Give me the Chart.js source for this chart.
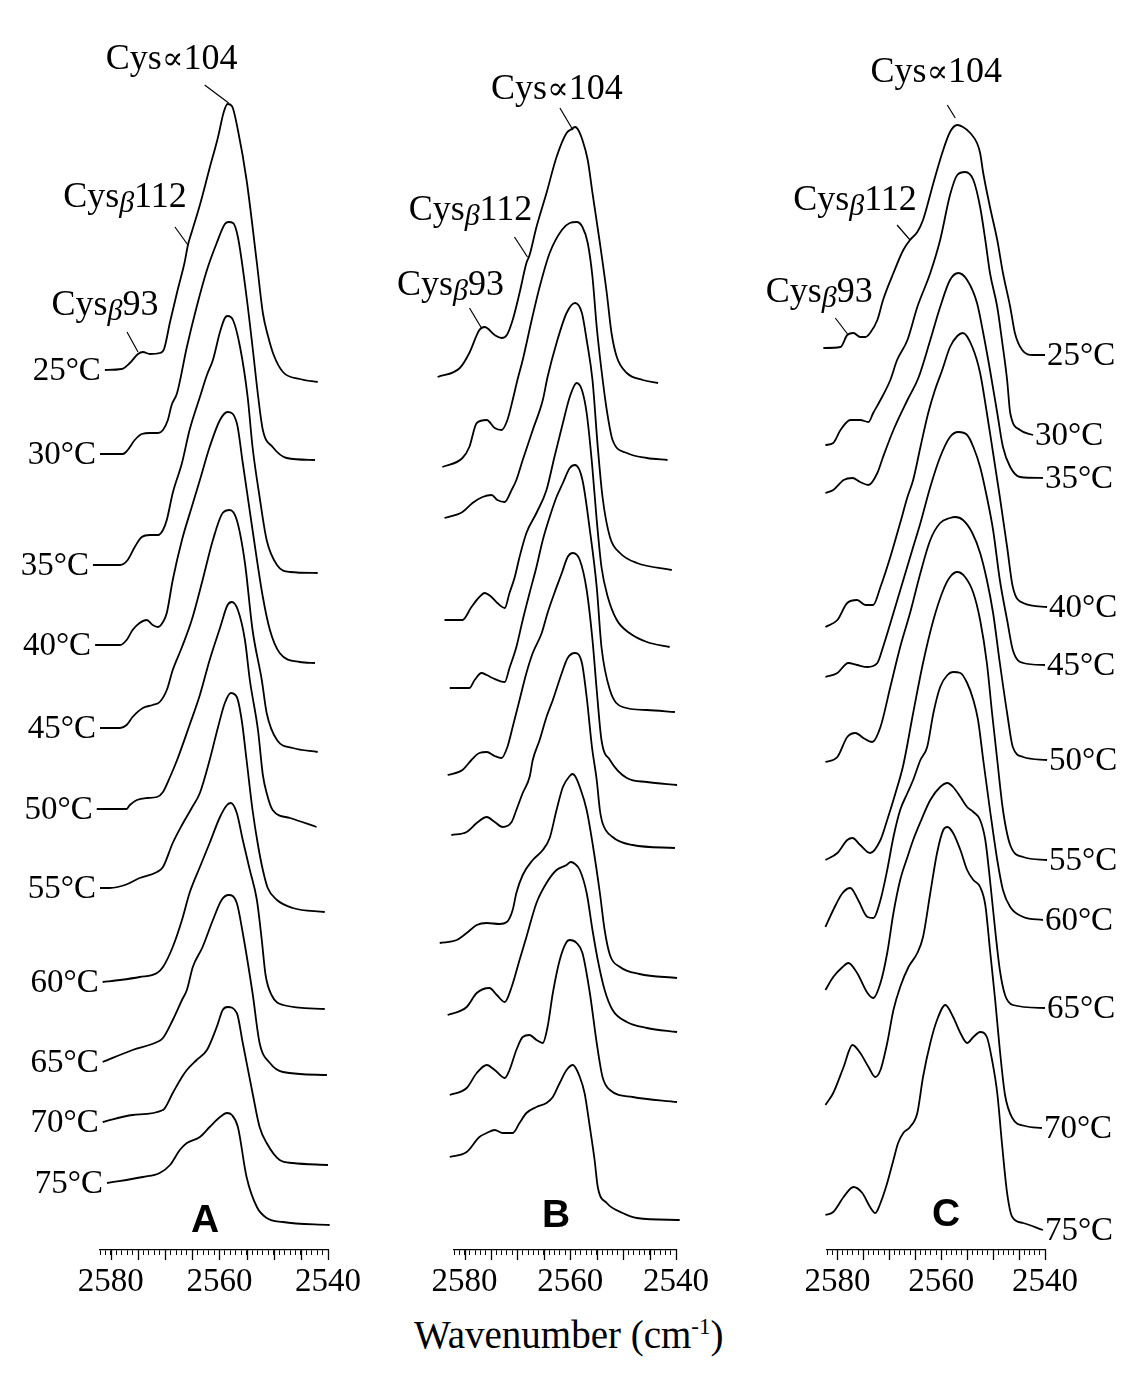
<!DOCTYPE html>
<html lang="en">
<head>
<meta charset="UTF-8">
<title>S-H stretching bands, 25-75 °C</title>
<script src="https://cdn.jsdelivr.net/npm/chart.js"></script>
<style>
    body { margin: 0; background: #fff; }
    #wrap { position: relative; width: 1123px; height: 1382px; }
    canvas { position: absolute; top: 0; }
    #xtitle {
        position: absolute; left: 414px; top: 1312px; white-space: nowrap;
        font-family: "Liberation Serif", serif; font-size: 39px; color: #000;
    }
    #xtitle sup { font-size: 23px; }
</style>
</head>
<body>
<div id="wrap">
    <canvas id="chartA" width="375" height="1300" style="left:0"></canvas>
    <canvas id="chartB" width="375" height="1300" style="left:375px"></canvas>
    <canvas id="chartC" width="373" height="1300" style="left:750px"></canvas>
    <div id="xtitle">Wavenumber (cm<sup>-1</sup>)</div>
</div>
<script>
const tickLabels = [2580, 2560, 2540];
const temps = ['25', '30', '35', '40', '45', '50', '55', '60', '65', '70', '75'];
const cysNames = ['Cys∝104', 'Cysβ112', 'Cysβ93'];

// baseline of each stacked spectrum (a.u.), 25 -> 75 °C
const offA = [880, 796, 685, 605, 522, 441, 362, 268, 188, 128, 67];
const offB = [873, 783, 732, 630, 562, 475, 415, 307, 235, 155, 93];
const offC = [902, 805, 757, 623, 573, 488, 390, 323, 260, 145, 35];

// spectra: [wavenumber, intensity above own baseline]
const a25 = [[2581.1,0],[2578.0,1],[2576.5,7],[2575.0,16],[2574.1,18],[2572.8,16],[2571.0,17],[2570.2,21],[2569.1,48],[2567.7,80],[2566.4,108],[2565.8,125],[2565.1,138],[2563.6,165],[2561.8,202],[2560.3,232],[2559.2,258],[2558.5,266],[2557.7,264],[2556.6,240],[2555.0,190],[2553.1,107],[2552.0,57],[2551.1,35],[2550.0,15],[2548.3,-2],[2545.2,-9],[2541.9,-12]];
const a30 = [[2582.0,0],[2577.8,0],[2576.9,4],[2575.6,14],[2574.3,20],[2572.8,21],[2571.3,21],[2570.4,24],[2569.5,34],[2568.8,49],[2567.8,61],[2566.0,107],[2564.2,147],[2562.3,184],[2560.5,211],[2559.0,230],[2558.3,232],[2557.5,231],[2556.6,217],[2555.0,157],[2553.9,107],[2552.9,59],[2552.0,24],[2550.2,7],[2547.6,-4],[2542.4,-6]];
const a35 = [[2583.3,0],[2578.3,0],[2576.9,5],[2575.6,18],[2574.3,28],[2572.8,30],[2571.3,30],[2570.4,35],[2569.7,45],[2568.6,72],[2566.9,102],[2565.5,135],[2563.6,168],[2562.3,190],[2561.2,205],[2559.9,233],[2559.0,247],[2558.5,249],[2557.5,245],[2556.2,218],[2554.8,168],[2553.9,118],[2552.6,68],[2551.3,25],[2549.4,0],[2547.0,-7],[2541.9,-8]];
const a40 = [[2582.9,0],[2578.3,0],[2577.1,5],[2576.0,15],[2574.7,22],[2573.4,25],[2572.3,20],[2571.3,18],[2570.4,23],[2569.7,32],[2568.6,65],[2566.9,105],[2565.1,138],[2563.6,165],[2561.8,198],[2559.9,225],[2558.5,233],[2556.8,222],[2555.7,182],[2553.9,115],[2552.0,48],[2550.7,15],[2548.9,-8],[2545.2,-17],[2542.4,-18]];
const a45 = [[2582.0,0],[2578.3,0],[2577.1,3],[2576.0,11],[2574.1,20],[2572.3,23],[2571.0,26],[2569.7,38],[2568.6,58],[2566.9,81],[2565.1,108],[2563.1,148],[2561.2,188],[2559.4,215],[2558.1,218],[2556.8,208],[2555.3,165],[2553.9,98],[2552.2,48],[2551.3,15],[2549.4,-12],[2546.5,-20],[2541.9,-24]];
const a50 = [[2582.6,0],[2577.1,0],[2576.5,4],[2575.2,9],[2573.4,11],[2571.5,12],[2570.4,17],[2569.1,32],[2567.8,49],[2565.5,84],[2563.6,114],[2561.8,149],[2559.9,181],[2558.5,204],[2557.7,207],[2556.6,199],[2555.3,169],[2554.4,129],[2552.9,79],[2552.0,34],[2551.3,16],[2550.2,-1],[2547.0,-9],[2542.1,-18]];
const a55 = [[2582.0,0],[2580.2,0],[2577.4,3],[2574.7,10],[2571.5,16],[2570.4,21],[2568.6,45],[2566.9,63],[2565.1,80],[2563.6,95],[2561.8,128],[2560.3,160],[2559.0,185],[2557.9,195],[2556.8,191],[2555.9,168],[2555.0,128],[2553.9,78],[2552.9,43],[2552.0,18],[2551.1,0],[2549.4,-12],[2546.5,-20],[2540.6,-24]];
const a60 = [[2581.5,0],[2578.3,2],[2574.7,5],[2571.5,9],[2570.4,15],[2568.6,35],[2566.9,62],[2565.5,89],[2563.6,115],[2561.8,139],[2559.9,165],[2558.6,177],[2557.9,179],[2556.8,169],[2555.7,142],[2554.4,112],[2553.1,82],[2552.2,42],[2551.5,7],[2550.4,-13],[2548.3,-23],[2540.6,-27]];
const a65 = [[2581.5,0],[2576.0,12],[2571.5,20],[2570.4,24],[2568.6,42],[2566.9,62],[2566.0,72],[2564.9,95],[2563.1,115],[2561.2,142],[2559.6,162],[2558.3,167],[2556.8,159],[2555.7,129],[2553.9,69],[2552.6,19],[2550.7,-1],[2548.3,-10],[2540.2,-13]];
const a70 = [[2581.5,0],[2576.0,7],[2570.4,12],[2568.6,29],[2566.9,45],[2566.0,52],[2564.2,62],[2562.3,72],[2560.5,95],[2559.4,112],[2558.5,115],[2556.8,109],[2555.7,79],[2553.9,29],[2552.6,-5],[2551.3,-21],[2548.9,-38],[2546.5,-41],[2540.0,-43]];
const a75 = [[2580.7,0],[2574.1,6],[2571.0,10],[2569.1,18],[2567.3,33],[2566.0,40],[2563.6,46],[2561.8,56],[2559.9,66],[2558.6,70],[2557.7,68],[2556.6,56],[2555.0,6],[2553.1,-24],[2551.3,-35],[2548.3,-39],[2539.7,-42]];

const b25 = [[2585.1,0],[2580.9,9],[2579.1,24],[2577.2,47],[2576.2,50],[2574.3,42],[2573.0,39],[2572.0,42],[2570.9,57],[2569.6,84],[2568.3,114],[2567.7,122],[2566.4,150],[2564.5,184],[2562.6,220],[2560.7,244],[2559.7,248],[2559.1,250],[2558.6,248],[2557.7,237],[2556.7,217],[2555.8,184],[2554.4,134],[2553.1,84],[2552.2,44],[2551.2,20],[2549.3,4],[2546.3,-3],[2543.4,-6]];
const b30 = [[2584.2,0],[2580.4,9],[2579.1,20],[2577.7,44],[2575.8,47],[2574.3,39],[2573.0,37],[2571.9,47],[2570.9,67],[2570.0,87],[2569.0,107],[2567.3,147],[2565.8,180],[2563.9,214],[2561.6,237],[2560.1,244],[2558.8,245],[2557.7,240],[2556.7,224],[2555.8,190],[2555.0,140],[2554.1,97],[2553.1,57],[2552.0,27],[2549.3,14],[2545.5,9],[2541.6,7]];
const b35 = [[2583.8,0],[2580.4,6],[2578.5,15],[2576.6,21],[2574.9,23],[2573.8,18],[2572.4,16],[2571.1,28],[2570.2,38],[2569.0,58],[2567.1,88],[2565.2,118],[2564.3,141],[2562.6,175],[2560.7,205],[2559.1,215],[2557.8,205],[2556.9,178],[2555.8,138],[2554.8,71],[2553.9,21],[2552.5,-19],[2550.6,-35],[2547.4,-45],[2540.8,-52]];
const b40 = [[2583.8,0],[2580.4,0],[2578.7,13],[2577.2,23],[2576.2,27],[2574.9,23],[2573.8,17],[2572.4,12],[2571.5,27],[2570.5,43],[2569.6,63],[2568.3,87],[2566.4,107],[2564.5,130],[2563.0,163],[2561.4,197],[2560.1,223],[2558.8,237],[2557.8,230],[2556.9,207],[2555.9,157],[2555.0,100],[2554.1,53],[2552.9,23],[2551.2,0],[2548.8,-13],[2545.5,-22],[2541.2,-27]];
const b45 = [[2582.8,0],[2579.1,0],[2578.1,8],[2576.8,15],[2575.8,13],[2574.7,10],[2572.4,6],[2571.5,20],[2570.2,41],[2569.0,68],[2567.7,95],[2566.4,121],[2565.2,148],[2563.9,171],[2562.6,191],[2561.4,205],[2560.1,220],[2559.1,223],[2557.7,208],[2556.3,158],[2555.0,101],[2554.1,41],[2552.5,-2],[2550.1,-19],[2545.5,-22],[2540.2,-24]];
const b50 = [[2583.2,0],[2580.4,5],[2578.7,15],[2577.2,22],[2575.8,23],[2574.3,19],[2573.0,17],[2571.9,28],[2570.9,48],[2569.6,75],[2568.3,102],[2567.1,122],[2565.4,142],[2564.3,162],[2563.0,182],[2561.6,202],[2560.5,218],[2559.5,222],[2558.2,215],[2556.9,185],[2555.8,135],[2555.0,85],[2554.1,35],[2552.5,15],[2549.3,-3],[2545.5,-7],[2539.8,-10]];
const b55 = [[2582.5,0],[2579.6,3],[2577.7,12],[2575.8,18],[2574.3,13],[2572.8,8],[2571.1,13],[2570.2,25],[2569.0,42],[2567.7,58],[2567.1,75],[2565.8,95],[2564.5,118],[2563.3,135],[2561.6,162],[2560.5,177],[2559.1,182],[2557.8,172],[2556.9,138],[2555.9,88],[2555.0,55],[2554.4,25],[2553.9,12],[2552.0,-2],[2548.2,-10],[2540.2,-13]];
const b60 = [[2584.7,0],[2581.5,3],[2579.6,10],[2577.7,18],[2575.8,20],[2573.4,19],[2572.0,21],[2570.9,33],[2570.2,50],[2569.0,68],[2567.1,83],[2565.2,93],[2563.9,105],[2562.6,133],[2561.4,156],[2560.1,167],[2559.6,169],[2559.1,167],[2558.2,156],[2556.9,133],[2555.8,100],[2554.4,50],[2553.5,13],[2552.5,-12],[2550.6,-24],[2546.9,-31],[2539.8,-35]];
const b65 = [[2583.2,0],[2579.6,8],[2577.7,22],[2575.3,27],[2573.9,20],[2572.4,13],[2571.1,28],[2569.6,55],[2568.3,78],[2566.4,112],[2564.5,132],[2562.6,145],[2560.7,150],[2559.9,153],[2559.1,151],[2558.2,145],[2556.9,122],[2555.8,85],[2554.8,55],[2553.5,25],[2552.0,5],[2549.3,-7],[2545.5,-13],[2539.8,-17]];
const b70 = [[2582.8,0],[2579.6,7],[2577.7,22],[2575.8,30],[2574.3,25],[2572.4,17],[2571.5,25],[2570.2,45],[2569.0,58],[2567.7,60],[2566.4,55],[2565.2,52],[2564.3,68],[2563.3,102],[2562.0,135],[2560.7,153],[2560.1,155],[2558.8,152],[2557.7,142],[2556.3,102],[2555.0,52],[2553.9,18],[2552.5,5],[2548.2,-2],[2539.8,-7]];
const b75 = [[2582.8,0],[2579.6,5],[2577.2,20],[2575.8,24],[2574.3,27],[2572.8,24],[2570.9,24],[2569.6,34],[2568.3,44],[2566.4,50],[2564.5,54],[2563.3,60],[2562.0,74],[2560.7,87],[2559.5,92],[2558.2,80],[2557.3,64],[2556.3,30],[2555.4,-3],[2554.8,-30],[2553.1,-46],[2550.1,-56],[2547.4,-61],[2539.3,-63]];

const c25 = [[2582.7,0],[2579.4,1],[2578.1,13],[2576.9,15],[2575.6,11],[2574.6,11],[2573.7,15],[2572.3,28],[2571.2,48],[2569.2,75],[2567.3,98],[2566.0,108],[2564.6,116],[2563.5,128],[2561.5,165],[2559.8,195],[2558.3,216],[2556.9,223],[2555.8,221],[2554.4,215],[2553.1,205],[2552.5,195],[2551.9,175],[2550.6,141],[2549.2,108],[2548.1,75],[2546.7,41],[2545.8,15],[2544.4,-2],[2542.3,-7],[2540.0,-7]];
const c30 = [[2582.3,0],[2580.8,2],[2579.4,15],[2577.5,25],[2575.6,25],[2574.0,23],[2573.1,32],[2571.7,45],[2569.8,65],[2568.5,85],[2566.5,105],[2564.6,138],[2562.1,172],[2560.2,205],[2558.3,250],[2556.9,270],[2555.4,273],[2553.8,265],[2552.5,238],[2551.5,205],[2550.6,172],[2549.2,138],[2548.3,105],[2547.3,65],[2546.7,32],[2544.8,15],[2542.3,10]];
const c35 = [[2582.3,0],[2580.8,3],[2578.8,13],[2577.1,15],[2575.6,11],[2574.0,8],[2572.3,20],[2571.2,36],[2569.2,63],[2566.5,93],[2564.4,115],[2562.1,153],[2560.2,186],[2558.3,213],[2556.7,220],[2555.0,213],[2553.1,190],[2551.9,160],[2550.6,123],[2549.2,80],[2548.1,46],[2546.7,26],[2544.8,16],[2540.4,15]];
const c40 = [[2582.3,0],[2580.0,7],[2578.1,24],[2576.2,27],[2574.6,22],[2573.1,22],[2571.7,40],[2569.8,70],[2567.9,104],[2566.5,130],[2565.4,147],[2564.0,180],[2562.5,214],[2561.2,237],[2559.8,257],[2558.3,280],[2556.9,291],[2555.8,294],[2554.0,280],[2552.5,254],[2551.2,214],[2550.0,174],[2548.7,130],[2547.3,80],[2546.2,40],[2544.2,24],[2539.6,20]];
const c45 = [[2582.3,0],[2580.0,4],[2577.9,14],[2576.2,12],[2574.2,10],[2572.3,14],[2571.2,30],[2569.2,64],[2567.3,97],[2565.4,130],[2564.0,154],[2562.1,190],[2560.2,220],[2558.3,240],[2556.7,245],[2555.0,242],[2553.8,230],[2552.5,210],[2551.2,180],[2550.0,147],[2548.7,97],[2547.3,57],[2546.2,27],[2544.2,14],[2540.0,12]];
const c50 = [[2582.3,0],[2580.0,5],[2578.1,25],[2576.5,29],[2575.0,24],[2573.3,20],[2571.7,35],[2569.8,75],[2567.9,115],[2566.0,149],[2564.0,189],[2562.1,222],[2560.2,239],[2558.3,244],[2557.3,245],[2555.8,242],[2554.0,229],[2552.5,209],[2551.2,182],[2550.0,149],[2548.7,99],[2547.3,49],[2546.2,15],[2544.2,5],[2539.6,2]];
const c55 = [[2582.3,0],[2580.0,7],[2578.1,20],[2577.1,22],[2575.6,15],[2573.7,7],[2571.7,20],[2570.4,40],[2568.8,67],[2567.3,95],[2565.4,147],[2563.5,197],[2561.5,240],[2559.6,270],[2558.3,283],[2556.9,288],[2555.4,283],[2553.8,267],[2552.5,240],[2551.2,197],[2550.2,147],[2549.2,100],[2548.1,50],[2546.7,15],[2544.2,3],[2539.6,0]];
const c60 = [[2582.3,0],[2580.8,17],[2579.0,34],[2577.5,39],[2576.0,27],[2574.2,10],[2573.1,9],[2571.7,27],[2570.4,57],[2569.2,90],[2567.9,117],[2566.5,134],[2565.4,147],[2564.0,167],[2562.7,180],[2561.5,214],[2560.2,240],[2558.8,252],[2557.7,255],[2556.3,254],[2555.0,244],[2553.8,227],[2552.9,207],[2551.9,167],[2550.6,117],[2549.2,67],[2548.1,37],[2546.7,20],[2544.2,10],[2540.4,7]];
const c65 = [[2582.3,0],[2580.8,13],[2579.0,23],[2577.9,27],[2576.2,17],[2574.2,-3],[2573.1,-8],[2571.7,7],[2570.4,37],[2569.2,77],[2567.9,110],[2566.5,133],[2565.4,150],[2564.0,168],[2562.1,190],[2560.2,203],[2558.8,207],[2557.7,203],[2556.3,193],[2555.0,183],[2553.8,178],[2552.5,170],[2551.5,150],[2550.6,110],[2549.6,60],[2548.7,20],[2547.7,-5],[2546.2,-15],[2540.0,-18]];
const c70 = [[2582.3,0],[2580.8,12],[2578.8,38],[2577.1,60],[2575.6,52],[2574.0,38],[2572.7,28],[2571.7,35],[2570.4,62],[2569.2,95],[2567.9,118],[2566.3,138],[2564.6,152],[2563.5,168],[2562.1,212],[2560.8,252],[2559.6,275],[2558.8,278],[2557.7,272],[2556.3,255],[2555.0,235],[2553.8,225],[2552.5,218],[2551.5,200],[2550.6,155],[2549.6,105],[2548.7,55],[2547.7,10],[2546.3,-13],[2543.8,-21],[2540.6,-23]];
const c75 = [[2582.3,0],[2580.8,3],[2578.8,18],[2576.9,28],[2575.2,22],[2573.7,8],[2572.7,2],[2571.7,12],[2570.4,32],[2569.2,55],[2568.3,72],[2567.3,82],[2566.0,88],[2564.6,102],[2563.5,138],[2562.1,172],[2560.8,195],[2559.2,210],[2557.7,198],[2556.3,182],[2555.0,172],[2553.8,178],[2552.5,183],[2551.2,178],[2550.2,155],[2549.2,122],[2548.3,72],[2547.3,22],[2546.3,-2],[2544.2,-8],[2540.4,-15]];

// labelled bands on the 25 °C spectrum: [wavenumber, intensity]
const ancA = [[2558.3, 267], [2565.8, 125], [2575.0, 18]];
const ancB = [[2559.5, 247], [2568.1, 120], [2576.8, 49]];
const ancC = [[2556.9, 225], [2566.0, 108], [2577.9, 13]];

function drawCys(ctx, name, cx, cy) {
    const head = name.slice(0, 3), sym = name[3], tail = name.slice(4);
    const reg = '36px "Liberation Serif"';
    const symFont = sym === 'β' ? 'italic 30px "Liberation Serif"' : '32px "DejaVu Serif"';
    ctx.font = reg;
    const w1 = ctx.measureText(head).width, w3 = ctx.measureText(tail).width;
    ctx.font = symFont;
    const w2 = ctx.measureText(sym).width;
    const x0 = cx - (w1 + w2 + w3) / 2, base = cy + 12;
    ctx.textAlign = 'left';
    ctx.textBaseline = 'alphabetic';
    ctx.font = reg; ctx.fillText(head, x0, base);
    ctx.font = symFont; ctx.fillText(sym, x0 + w1, base + (sym === 'β' ? 5 : 0));
    ctx.font = reg; ctx.fillText(tail, x0 + w1 + w2, base);
}

const decor = {
    id: 'decor',
    afterDraw(chart, args, o) {
        const {ctx, scales: {x, y}} = chart;
        ctx.save();
        ctx.fillStyle = '#000';
        ctx.strokeStyle = '#000';

        // longer ticks every 5 cm-1
        ctx.lineWidth = 1.3;
        for (let w = 2540; w <= 2580; w += 5) {
            const px = Math.round(x.getPixelForValue(w)) + 0.5;
            ctx.beginPath(); ctx.moveTo(px, y.bottom); ctx.lineTo(px, y.bottom + 10); ctx.stroke();
        }

        // temperature labels
        if (o.side) {
            ctx.font = '33px "Liberation Serif"';
            ctx.textBaseline = 'middle';
            ctx.textAlign = o.side === 'left' ? 'right' : 'left';
            chart.data.datasets.forEach((ds, i) => {
                const p = o.side === 'left' ? ds.data[0] : ds.data[ds.data.length - 1];
                const px = x.getPixelForValue(p.x), py = y.getPixelForValue(p.y);
                ctx.fillText(temps[i] + '°C', o.side === 'left' ? px - 4 : px + 2, py + 1);
            });
        }

        // band assignments with leader lines
        const base = chart.data.datasets[0].base;
        ctx.lineWidth = 1.2;
        o.anchors.forEach(([w, v], k) => {
            const ax = x.getPixelForValue(w), ay = y.getPixelForValue(base + v);
            const m = o.marks[k];
            ctx.beginPath();
            ctx.moveTo(ax + m.l[0], ay + m.l[1]);
            ctx.lineTo(ax + m.l[2], ay + m.l[3]);
            ctx.stroke();
            drawCys(ctx, cysNames[k], ax + m.t[0], ay + m.t[1]);
        });

        // panel letter
        ctx.font = 'bold 39px "Liberation Sans"';
        ctx.textAlign = 'center';
        ctx.textBaseline = 'alphabetic';
        ctx.fillText(o.letter[0], o.letter[1], o.letter[2]);
        ctx.restore();
    }
};

function makePanel(id, curves, offs, pad, extra) {
    new Chart(document.getElementById(id), {
        type: 'line',
        data: {
            datasets: curves.map((c, i) => ({
                base: offs[i],
                data: c.map(([w, v]) => ({x: w, y: offs[i] + v})),
                borderColor: '#000',
                borderWidth: 1.8,
                pointRadius: 0,
                cubicInterpolationMode: 'monotone',
                fill: false,
                clip: false
            }))
        },
        options: {
            responsive: false,
            animation: false,
            devicePixelRatio: 1,
            layout: {padding: {left: pad[0], right: pad[1], top: 0, bottom: 0}},
            plugins: {legend: {display: false}, tooltip: {enabled: false}, decor: extra},
            scales: {
                x: {
                    type: 'linear', reverse: true, min: 2540, max: 2582,
                    afterFit: s => { s.height = 50; },
                    border: {display: true, color: '#000', width: 1.3},
                    grid: {drawOnChartArea: false, drawTicks: true, tickLength: 5, color: '#000', lineWidth: 1},
                    ticks: {
                        stepSize: 1, autoSkip: false, maxRotation: 0, minRotation: 0,
                        padding: 8, color: '#000',
                        font: {family: 'Liberation Serif', size: 33},
                        callback: v => tickLabels.includes(v) ? String(v) : ''
                    }
                },
                y: {display: false, min: 0, max: 1250}
            }
        },
        plugins: [decor]
    });
}

makePanel('chartA', [a25, a30, a35, a40, a45, a50, a55, a60, a65, a70, a75], offA, [100, 47], {
    side: 'left', letter: ['A', 205, 1232], anchors: ancA,
    marks: [{l: [-24, -18, 0, 0], t: [-57, -46]}, {l: [-13, -18, 0, 0], t: [-63, -50]}, {l: [-11, -20, 0, 0], t: [-33, -49]}]
});
makePanel('chartB', [b25, b30, b35, b40, b45, b50, b55, b60, b65, b70, b75], offB, [79, 74], {
    side: null, letter: ['B', 181, 1227], anchors: ancB,
    marks: [{l: [-13, -22, 0, 0], t: [-16, -43]}, {l: [-13, -20, 0, 0], t: [-57, -49]}, {l: [-12, -20, 0, 0], t: [-31, -45]}]
});
makePanel('chartC', [c25, c30, c35, c40, c45, c50, c55, c60, c65, c70, c75], offC, [77, 78], {
    side: 'right', letter: ['C', 196, 1226], anchors: ancC,
    marks: [{l: [-10, -18, -2, -5], t: [-21, -53]}, {l: [-13, -15, 0, 0], t: [-55, -42]}, {l: [-13, -17, 0, 0], t: [-29, -45]}]
});
</script>
</body>
</html>
